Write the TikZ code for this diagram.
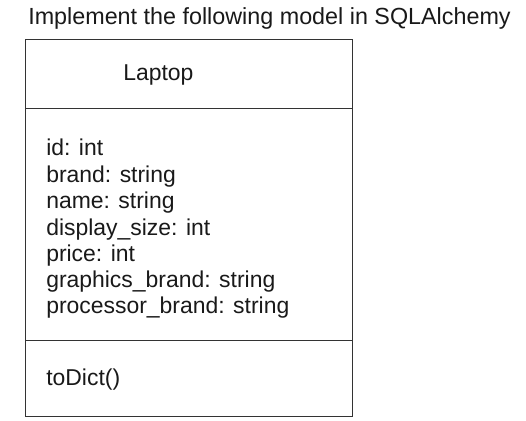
\documentclass[tikz,border=0pt]{standalone}
\usepackage{fontspec}
\setmainfont{Liberation Sans}
\begin{document}
\begin{tikzpicture}[x=0.75pt, y=-0.75pt,
  txt/.style={anchor=base west, inner sep=0pt, text=black!90,
              font=\fontsize{17.2}{19.6}\selectfont},
  frame/.style={draw=black!80, line width=0.75pt}
]
  \useasboundingbox (0,0) rectangle (526,421);
  \node[txt, font=\fontsize{17.5}{20}\selectfont] (title) at (28,25)
        {Implement the following model in SQLAlchemy};
  % class box
  \draw[frame] (25,39) rectangle (352,416);
  \draw[frame] (25,108) -- (352,108);
  \draw[frame] (25,340) -- (352,340);
  \node[txt] (cname) at (123,80) {Laptop};
  % attributes
  \node[txt] (aid)    at (46,156) {id: int};
  \node[txt] (abrand) at (46,182) {brand: string};
  \node[txt] (aname)  at (46,208) {name: string};
  \node[txt] (adisp)  at (46,235) {display\_size: int};
  \node[txt] (aprice) at (46,261) {price: int};
  \node[txt] (agfx)   at (46,287) {graphics\_brand: string};
  \node[txt] (aproc)  at (46,313) {processor\_brand: string};
  % methods
  \node[txt] (mdict)  at (46,385) {toDict()};
\end{tikzpicture}
\end{document}
